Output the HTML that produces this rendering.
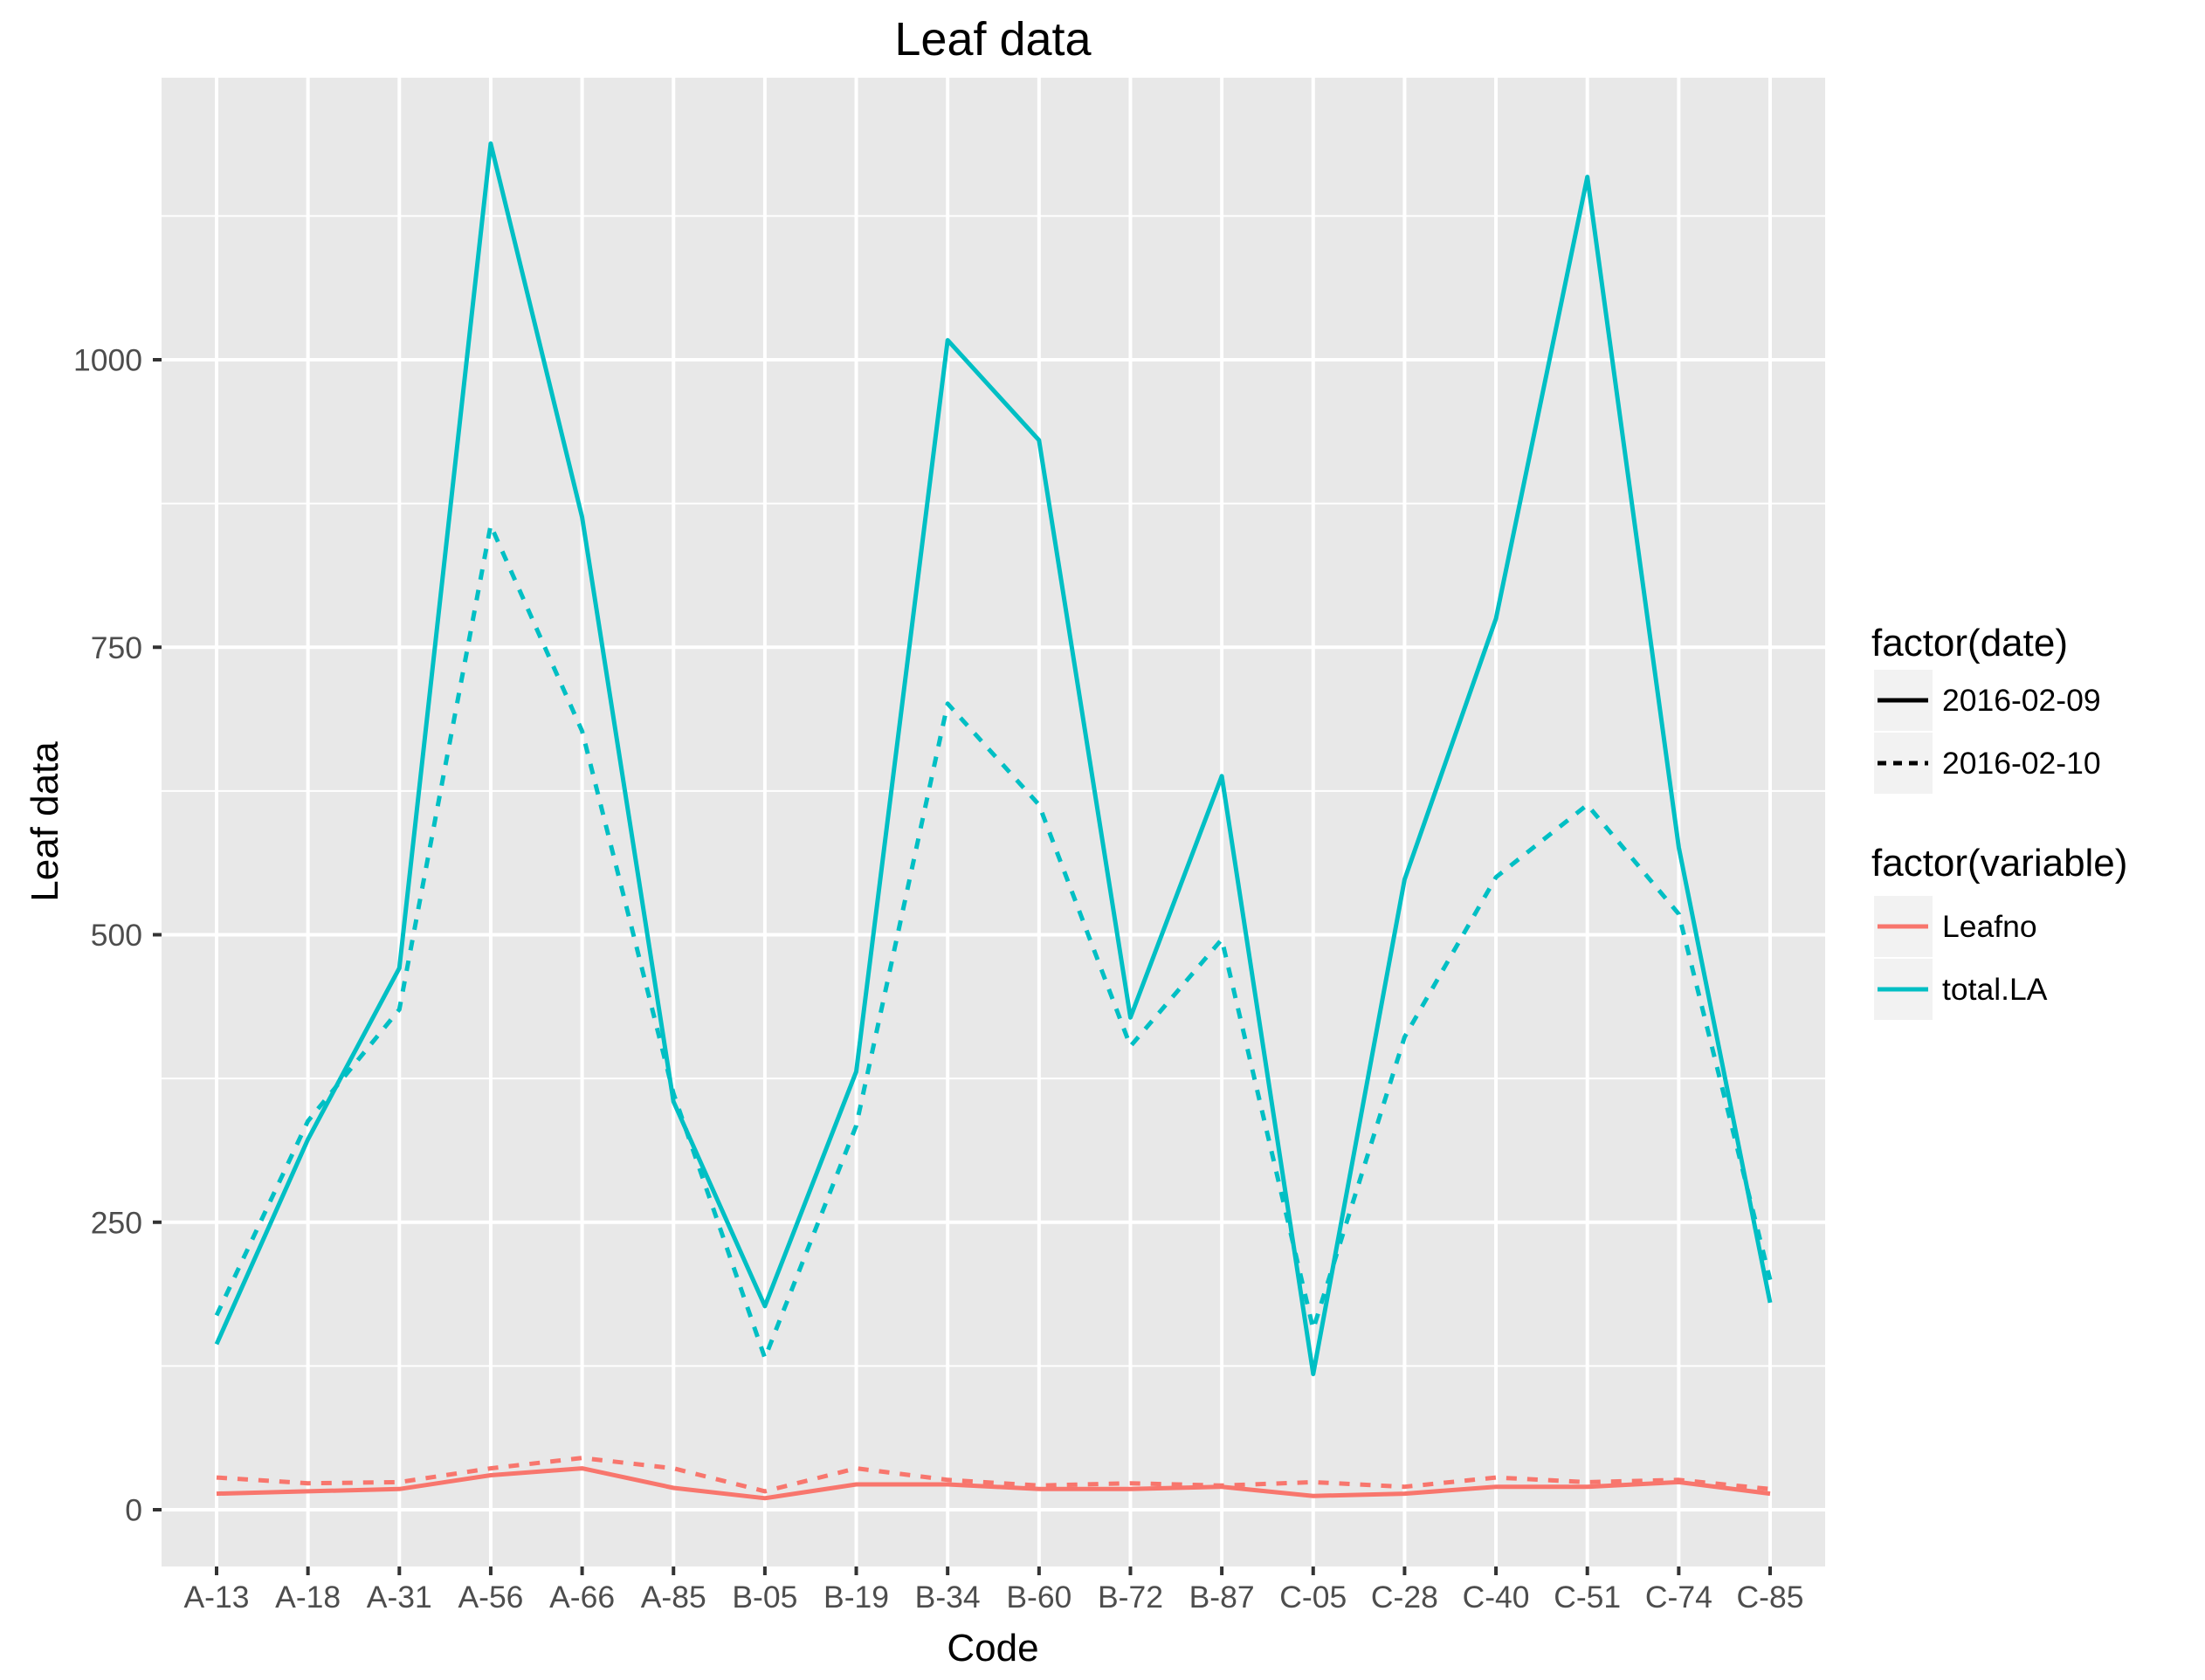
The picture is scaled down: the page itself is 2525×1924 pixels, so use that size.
<!DOCTYPE html>
<html><head><meta charset="utf-8"><style>
html,body{margin:0;padding:0;background:#fff;}
svg{display:block;font-family:"Liberation Sans",Arial,sans-serif;}
</style></head><body>
<svg id="chart" width="2525" height="1924" viewBox="0 0 2525 1924" xmlns="http://www.w3.org/2000/svg">
<rect x="0" y="0" width="2525" height="1924" fill="#fff"/>
<text x="1137" y="63" font-size="54" text-anchor="middle" fill="#000">Leaf data</text>
<rect x="185" y="89" width="1905" height="1705" fill="#E8E8E8"/>
<g id="grid"></g>
<g id="series"></g>
<g id="axes"></g>
<text x="1137" y="1902" font-size="44" text-anchor="middle" fill="#000">Code</text>
<text transform="translate(66,941) rotate(-90)" font-size="44" text-anchor="middle" fill="#000">Leaf data</text>
<g>
<text x="2143" y="751" font-size="44" fill="#000">factor(date)</text>
<rect x="2146" y="767" width="67" height="70" fill="#F2F2F2"/>
<line x1="2150" y1="802" x2="2208" y2="802" stroke="#000" stroke-width="5"/>
<text x="2224" y="814" font-size="35.5" fill="#000">2016-02-09</text>
<rect x="2146" y="839" width="67" height="70" fill="#F2F2F2"/>
<line x1="2150" y1="874" x2="2208" y2="874" stroke="#000" stroke-width="5" stroke-dasharray="10 8"/>
<text x="2224" y="886" font-size="35.5" fill="#000">2016-02-10</text>
</g>
<g>
<text x="2143" y="1003" font-size="44" fill="#000">factor(variable)</text>
<rect x="2146" y="1026" width="67" height="70" fill="#F2F2F2"/>
<line x1="2150" y1="1061" x2="2208" y2="1061" stroke="#F8766D" stroke-width="5"/>
<text x="2224" y="1073" font-size="35.5" fill="#000">Leafno</text>
<rect x="2146" y="1098" width="67" height="70" fill="#F2F2F2"/>
<line x1="2150" y1="1133" x2="2208" y2="1133" stroke="#00BFC4" stroke-width="5"/>
<text x="2224" y="1145" font-size="35.5" fill="#000">total.LA</text>
</g>
</svg>
<script>
const categories = ["A-13","A-18","A-31","A-56","A-66","A-85","B-05","B-19","B-34","B-60","B-72","B-87","C-05","C-28","C-40","C-51","C-74","C-85"];
const totalLA_0209 = [144,322,471,1188,863,355,177,381,1017,930,428,638,118,548,775,1159,576,180];
const totalLA_0210 = [169,338,435,856,677,362,132,334,701,613,403,496,157,411,550,613,518,200];
const leafno_0209 = [14,16,18,30,36,19,10,22,22,18,18,20,12,14,20,20,24,14];
const leafno_0210 = [28,23,24,36,45,36,16,36,26,21,23,21,24,20,28,24,26,18];
const yMajorTicks = [0,250,500,750,1000];
const yMinorTicks = [125,375,625,875,1125];
const yTickLabels = ["0","250","500","750","1000"];

const NS = "http://www.w3.org/2000/svg";
const PL = 185, PR = 2090, PT = 89, PB = 1794;
const X0 = 248, XSTEP = (2027 - 248) / (categories.length - 1);
const Y0 = 1729, YPER = (1729 - 412) / 1000;
function xScale(i){ return X0 + i * XSTEP; }
function yScale(v){ return Y0 - v * YPER; }
function mk(tag, attrs, parent){
  const el = document.createElementNS(NS, tag);
  for (const k in attrs) el.setAttribute(k, attrs[k]);
  parent.appendChild(el);
  return el;
}
const grid = document.getElementById('grid');
const axes = document.getElementById('axes');
const series = document.getElementById('series');

yMinorTicks.forEach(v => {
  const l = mk('line', {x1:PL, x2:PR, y1:yScale(v), y2:yScale(v), stroke:'#fff', 'stroke-width':2}, grid);
  
  
});
yMajorTicks.forEach((v, i) => {
  const y = yScale(v);
  const l = mk('line', {x1:PL, x2:PR, y1:y, y2:y, stroke:'#fff', 'stroke-width':4}, grid);
  
  
  const t = mk('line', {x1:PL-10, x2:PL, y1:y, y2:y, stroke:'#333', 'stroke-width':4}, axes);
  
  
  const tx = mk('text', {x:PL-22, y:y+12.5, 'font-size':35.5, 'text-anchor':'end', fill:'#4D4D4D'}, axes);
  tx.textContent = yTickLabels[i];
  
  
});
categories.forEach((c, i) => {
  const x = xScale(i);
  const l = mk('line', {x1:x, x2:x, y1:PT, y2:PB, stroke:'#fff', 'stroke-width':4}, grid);
  
  
  const t = mk('line', {x1:x, x2:x, y1:PB, y2:PB+10, stroke:'#333', 'stroke-width':4}, axes);
  
  
  const tx = mk('text', {x:x, y:PB+47, 'font-size':35.5, 'text-anchor':'middle', fill:'#4D4D4D'}, axes);
  tx.textContent = c;
  
  
});
function drawLine(vals, color, dashed, name){
  const pts = vals.map((v, i) => xScale(i).toFixed(1) + ',' + yScale(v).toFixed(1)).join(' ');
  const attrs = {points:pts, fill:'none', stroke:color, 'stroke-width':5, 'stroke-linejoin':'round'};
  if (dashed) attrs['stroke-dasharray'] = '12 12';
  const p = mk('polyline', attrs, series);
  
  
}
drawLine(leafno_0210, '#F8766D', true, 'leafno-2016-02-10-line');
drawLine(leafno_0209, '#F8766D', false, 'leafno-2016-02-09-line');
drawLine(totalLA_0210, '#00BFC4', true, 'total-la-2016-02-10-line');
drawLine(totalLA_0209, '#00BFC4', false, 'total-la-2016-02-09-line');
</script>
</body></html>
